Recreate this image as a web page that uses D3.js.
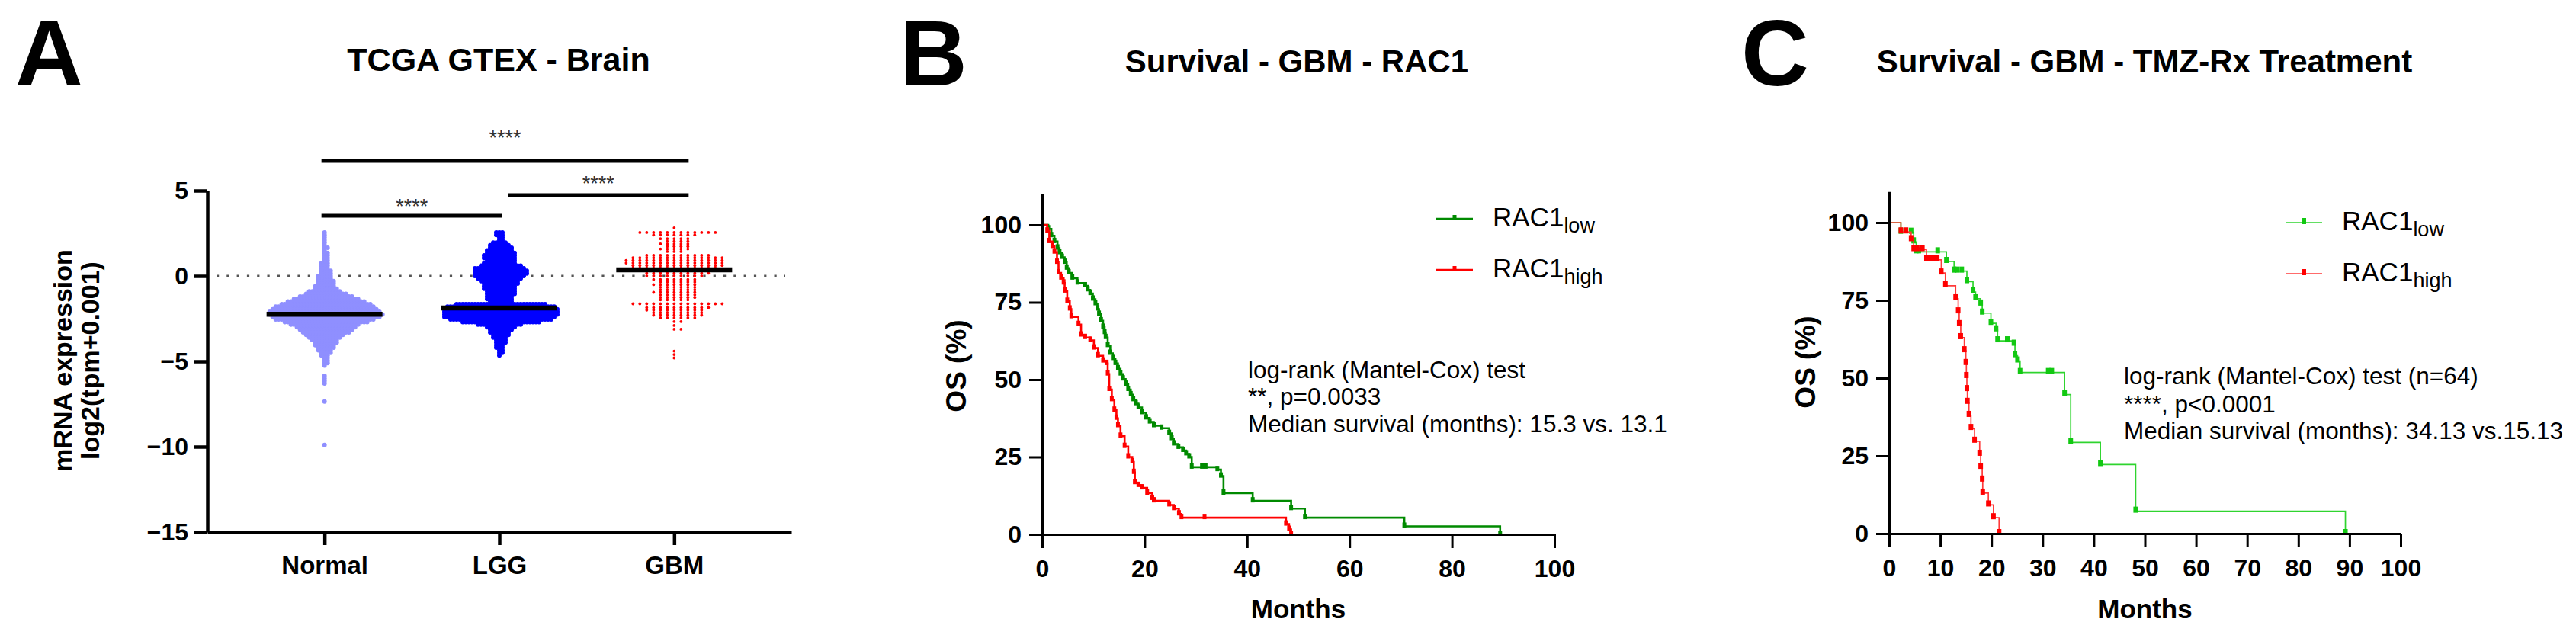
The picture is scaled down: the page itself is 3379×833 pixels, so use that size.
<!DOCTYPE html>
<html><head><meta charset="utf-8">
<script src="https://cdn.jsdelivr.net/npm/d3@7"></script>
<style>
body{margin:0;background:#fff;}
svg{display:block;}
text{font-family:"Liberation Sans",Arial,Helvetica,sans-serif;}
</style>
</head><body>
<svg id="c" width="3379" height="833"></svg>
<script>
// ================= DATA =================
const categories = ["Normal", "LGG", "GBM"];
// [log2 expression level, number of samples in that row]
const normalBins = [[2.55,1],[2.40,1],[2.25,1],[2.10,1],[1.95,1],[1.80,1],[1.65,2],[1.50,1],[1.35,2],[1.20,2],[1.05,2],[0.90,2],[0.75,3],[0.60,3],[0.45,3],[0.30,4],[0.15,4],[0.00,5],[-0.15,5],[-0.30,6],[-0.45,6],[-0.60,7],[-0.75,8],[-0.90,11],[-1.05,14],[-1.20,18],[-1.35,22],[-1.50,26],[-1.65,30],[-1.80,33],[-1.95,35],[-2.10,37],[-2.25,38],[-2.40,36],[-2.55,33],[-2.70,28],[-2.85,23],[-3.00,20],[-3.15,18],[-3.30,16],[-3.45,13],[-3.60,11],[-3.75,9],[-3.90,8],[-4.05,7],[-4.20,6],[-4.35,5],[-4.50,4],[-4.65,3],[-4.80,2],[-4.95,2],[-5.10,2],[-5.25,1],[-5.85,1],[-6.00,1],[-6.15,1],[-6.30,1],[-7.35,1],[-9.90,1]];
const lggBins = [[2.55,3],[2.40,3],[2.25,2],[2.10,2],[1.95,5],[1.80,7],[1.65,8],[1.50,9],[1.35,10],[1.20,11],[1.05,11],[0.90,10],[0.75,11],[0.60,14],[0.45,17],[0.30,18],[0.15,18],[0.00,17],[-0.15,15],[-0.30,13],[-0.45,12],[-0.60,11],[-0.75,11],[-0.90,10],[-1.05,10],[-1.20,9],[-1.35,9],[-1.50,8],[-1.65,30],[-1.80,36],[-1.95,38],[-2.10,38],[-2.25,38],[-2.40,37],[-2.55,34],[-2.70,26],[-2.85,15],[-3.00,10],[-3.15,8],[-3.30,7],[-3.45,6],[-3.60,5],[-3.75,4],[-3.90,4],[-4.05,3],[-4.20,3],[-4.35,2],[-4.50,2],[-4.65,1]];
const gbmBins = [[2.82,1],[2.55,12],[2.40,7],[2.18,5],[2.03,4],[1.88,5],[1.73,4],[1.58,5],[1.43,3],[1.21,10],[1.06,14],[0.91,15],[0.76,15],[0.61,14],[0.46,13],[0.31,12],[0.16,10],[0.01,9],[-0.21,7],[-0.36,6],[-0.51,7],[-0.66,6],[-0.81,6],[-0.96,7],[-1.11,6],[-1.26,6],[-1.40,5],[-1.63,14],[-1.85,10],[-2.00,9],[-2.15,8],[-2.30,8],[-2.45,6],[-2.67,2],[-2.90,1],[-3.12,2],[-4.40,1],[-4.60,1],[-4.80,1]];
const medians = [-2.24, -1.88, 0.36];
const yTicksA = [5, 0, -5, -10, -15];
const comparisons = [["Normal","GBM","****"],["LGG","GBM","****"],["Normal","LGG","****"]];

// Kaplan-Meier steps: [month, OS %]
const bLowSteps = [[0,100],[1.2,98.7],[1.8,96.5],[2.4,94.6],[3.0,92.5],[3.4,91],[3.9,89.5],[4.4,87.9],[4.8,86],[5.2,84.5],[5.9,82.8],[6.9,81.2],[8.4,80.3],[8.9,79],[9.4,77.8],[9.9,76],[10.4,74.5],[10.8,72.8],[11.1,71.1],[11.5,69],[11.9,66.9],[12.2,65.2],[12.4,63.6],[12.8,61],[13.3,58.5],[13.8,56.8],[14.3,55.2],[14.8,53.5],[15.3,51.8],[15.8,50.2],[16.3,48.5],[16.8,46.8],[17.3,45.1],[17.8,43.5],[18.3,42.2],[18.8,41],[19.5,39.3],[20.3,37.6],[21.0,36.3],[21.8,35.1],[23.3,34.3],[24.8,32.6],[25.3,30.9],[25.7,29.2],[26.6,28.1],[27.5,27.1],[28.1,26],[28.7,25],[29.2,21.7],[34.2,20.9],[34.9,18.8],[35.4,13.3],[41.1,10.8],[48.6,8.3],[51.3,5.4],[70.7,2.6],[89.4,0]];
const bHighSteps = [[0,100],[1.0,98],[1.4,94.6],[2.0,93],[2.4,91.2],[2.9,87.9],[3.2,84.5],[3.7,82.8],[4.2,81.2],[4.4,78.6],[4.9,75.3],[5.4,72.8],[5.7,70.3],[7.1,67.8],[7.6,64.4],[8.4,63.6],[9.4,62.7],[10.1,60.2],[10.9,57.7],[11.9,56],[12.6,55.2],[12.8,51.8],[13.1,46.8],[13.6,43.5],[14.1,40.1],[14.5,37.5],[14.8,35.1],[15.3,31.7],[16.1,28.4],[16.8,25],[17.6,23.4],[17.9,20],[18.1,16.7],[18.8,15.8],[19.5,15],[20.5,13.3],[21.5,11.6],[21.8,10.8],[24.8,9.5],[25.7,8.3],[26.7,6.6],[27.2,5.4],[47.6,3.3],[48.2,1.6],[48.6,0]];
const bLowCensor = [31.2, 31.9];
const bHighCensor = [31.7];

const cLowSteps = [[0,100],[2.3,96.9],[4.8,93.8],[5.3,90.6],[11.2,87.5],[12.7,84.4],[15.2,81],[16.4,77.7],[16.9,75.5],[17.9,73.8],[18.2,70.9],[19.9,67.6],[20.9,65.5],[21.2,62],[24.4,60.9],[24.6,57.2],[25.1,55.5],[25.6,51.8],[34.3,44.7],[35.5,29.3],[41.3,22.2],[48.2,7.2],[89.2,0]];
const cHighSteps = [[0,100],[2.3,97],[4.3,94.5],[4.8,91.3],[7.3,88],[10.2,83.8],[11.0,79.7],[13.0,75.5],[13.5,71.3],[13.7,67.2],[14.0,63],[14.7,58.8],[15.0,54.7],[15.1,50.5],[15.2,46.3],[15.3,42.2],[15.6,38],[16.0,33.8],[16.7,29.7],[17.7,25.5],[17.9,21.3],[18.2,17.2],[18.3,13],[19.4,9.2],[20.4,5.1],[21.5,0]];
const cLowCensor = [4.3, 5.8, 9.5, 13.3, 14.2, 23.1, 31.1, 31.8];
const cHighCensor = [3.3, 5.5, 6.5, 8.0, 8.7, 9.4];

const osTicks = [0, 25, 50, 75, 100];
const bMonthTicks = [0, 20, 40, 60, 80, 100];
const cMonthTicks = [0, 10, 20, 30, 40, 50, 60, 70, 80, 90, 100];

const bNotes = ["log-rank (Mantel-Cox) test", "**, p=0.0033", "Median survival (months): 15.3 vs. 13.1"];
const cNotes = ["log-rank (Mantel-Cox) test (n=64)", "****, p<0.0001", "Median survival (months): 34.13 vs.15.13"];
const legendNames = [["RAC1","low"],["RAC1","high"]];

// ================= DRAW =================
const svg = d3.select("#c");

function txt(g, x, y, s, size, weight, anchor) {
  return g.append("text").attr("x", x).attr("y", y).attr("font-size", size)
    .attr("font-weight", weight || "normal").attr("text-anchor", anchor || "start")
    .attr("fill", "#000").text(s);
}
function styleAxis(a, sw, fs) {
  a.select(".domain").attr("stroke", "#000").attr("stroke-width", sw);
  a.selectAll(".tick line").attr("stroke", "#000").attr("stroke-width", sw);
  a.selectAll(".tick text").attr("font-size", fs).attr("font-weight", "bold").attr("fill", "#000")
    .attr("font-family", '"Liberation Sans",Arial,sans-serif');
}

// ---------- Panel A ----------
const gA = svg.append("g");
txt(gA, 20, 112, "A", 123, "bold");
txt(gA, 654, 93, "TCGA GTEX - Brain", 43, "bold", "middle");

const yA = d3.scaleLinear().domain([-15, 5]).range([698, 250]);
const xA = d3.scalePoint().domain(categories).range([272, 1038]).padding(0.67);

gA.append("line").attr("x1", 284).attr("x2", 1030).attr("y1", yA(0)).attr("y2", yA(0))
  .attr("stroke", "#555").attr("stroke-width", 3.2).attr("stroke-dasharray", "3.2 10.1");

const groups = [
  {name: "Normal", bins: normalBins, color: "#8f8fff", r: 3, sp: 4},
  {name: "LGG", bins: lggBins, color: "#0000ff", r: 3, sp: 4},
  {name: "GBM", bins: gbmBins, color: "#ff0000", r: 1.9, sp: 9}
];
groups.forEach(g => {
  const pts = [];
  g.bins.forEach(([v, n]) => {
    for (let i = 0; i < n; i++) {
      const k = i === 0 ? 0 : (i % 2 ? (i + 1) / 2 : -i / 2);
      pts.push({x: xA(g.name) + k * g.sp, y: yA(v)});
    }
  });
  gA.append("g").selectAll("circle").data(pts).join("circle")
    .attr("cx", d => d.x).attr("cy", d => d.y).attr("r", g.r).attr("fill", g.color);
});
gA.append("g").selectAll("line").data(categories).join("line")
  .attr("x1", d => xA(d) - 76).attr("x2", d => xA(d) + 76)
  .attr("y1", (d, i) => yA(medians[i])).attr("y2", (d, i) => yA(medians[i]))
  .attr("stroke", "#000").attr("stroke-width", 6.5);

const brY = [211, 256, 283], brOff = [[-4, 19], [11, 19], [-4, 4]], starY = [190, 250, 280];
comparisons.forEach((c, i) => {
  const x1 = xA(c[0]) + brOff[i][0], x2 = xA(c[1]) + brOff[i][1];
  gA.append("line").attr("x1", x1).attr("x2", x2).attr("y1", brY[i]).attr("y2", brY[i])
    .attr("stroke", "#000").attr("stroke-width", 5);
  txt(gA, (x1 + x2) / 2, starY[i], c[2], 27, "normal", "middle").attr("fill", "#333");
});

const axYA = gA.append("g").attr("transform", "translate(272,0)")
  .call(d3.axisLeft(yA).tickValues(yTicksA).tickSize(17).tickSizeOuter(0).tickPadding(8));
styleAxis(axYA, 4.5, 32);
const axXA = gA.append("g").attr("transform", "translate(0,698)")
  .call(d3.axisBottom(xA).tickSize(17).tickSizeOuter(0).tickPadding(15));
styleAxis(axXA, 4.5, 33);

const yl = gA.append("g").attr("transform", "translate(94,473) rotate(-90)");
txt(yl, 0, 0, "mRNA expression", 34, "bold", "middle");
const yl2 = gA.append("g").attr("transform", "translate(130,473) rotate(-90)");
txt(yl2, 0, 0, "log2(tpm+0.001)", 34, "bold", "middle");

// ---------- KM panels ----------
function kmPanel(o) {
  const g = svg.append("g");
  txt(g, o.letterX, 112, o.letter, 123, "bold");
  txt(g, o.titleX, 95, o.title, 42, "bold", "middle");
  const x = d3.scaleLinear().domain([0, 100]).range([o.x0, o.x1]);
  const y = d3.scaleLinear().domain([0, 110]).range([o.y0, o.yTop]);

  const lineGen = d3.line().x(d => x(d[0])).y(d => y(d[1])).curve(d3.curveStepAfter);
  function survAt(steps, t) { let s = 100; steps.forEach(d => { if (d[0] <= t) s = d[1]; }); return s; }
  o.series.forEach(s => {
    g.append("path").attr("d", lineGen(s.steps)).attr("fill", "none")
      .attr("stroke", s.lineColor).attr("stroke-width", o.lw);
    const marks = s.steps.slice(1).map(d => [d[0], d[1]])
      .concat(s.censor.map(t => [t, survAt(s.steps, t)]));
    g.append("g").selectAll("rect").data(marks).join("rect")
      .attr("x", d => x(d[0]) - o.mw / 2).attr("y", d => y(d[1]) - o.mh + 2)
      .attr("width", o.mw).attr("height", o.mh).attr("fill", s.color);
  });

  const ax = g.append("g").attr("transform", `translate(0,${o.y0})`)
    .call(d3.axisBottom(x).tickValues(o.xTicks).tickSize(18).tickSizeOuter(0).tickPadding(15));
  styleAxis(ax, 3, 32);
  const ay = g.append("g").attr("transform", `translate(${o.x0},0)`)
    .call(d3.axisLeft(y).tickValues(osTicks).tickSize(17).tickSizeOuter(0).tickPadding(10));
  styleAxis(ay, 3, 32);

  txt(g, (o.x0 + o.x1) / 2, 811, "Months", 35, "bold", "middle");
  const os = g.append("g").attr("transform", `translate(${o.osX},${o.osY}) rotate(-90)`);
  txt(os, 0, 0, "OS (%)", 37, "bold", "middle");

  // legend
  o.series.forEach((s, i) => {
    const ly = o.legY[i];
    g.append("line").attr("x1", o.legX).attr("x2", o.legX + 48).attr("y1", ly).attr("y2", ly)
      .attr("stroke", s.lineColor).attr("stroke-width", o.lw);
    g.append("rect").attr("x", o.legX + 24 - o.mw / 2).attr("y", ly - o.mh + 2)
      .attr("width", o.mw).attr("height", o.mh).attr("fill", s.color);
    const t = txt(g, o.legX + 74, ly + 10, "", 35, "normal");
    t.append("tspan").text(legendNames[i][0]);
    t.append("tspan").attr("dy", 8).attr("font-size", 27).text(legendNames[i][1]);
  });
  o.notes.forEach((n, i) => txt(g, o.noteX, o.noteY[i], n, 31.5, "normal"));
}

kmPanel({
  letter: "B", letterX: 1180, title: "Survival - GBM - RAC1", titleX: 1701,
  x0: 1367, x1: 2039, y0: 701, yTop: 254.4, xTicks: bMonthTicks,
  lw: 2.6, mw: 5, mh: 7, osX: 1267, osY: 480,
  legX: 1884, legY: [287, 354],
  noteX: 1637, noteY: [496, 531, 567], notes: bNotes,
  series: [
    {steps: bLowSteps, censor: bLowCensor, color: "#008a00", lineColor: "#008a00"},
    {steps: bHighSteps, censor: bHighCensor, color: "#ff0000", lineColor: "#ff0000"}
  ]
});
kmPanel({
  letter: "C", letterX: 2284, title: "Survival - GBM - TMZ-Rx Treatment", titleX: 2813,
  x0: 2478, x1: 3149, y0: 700, yTop: 251.2, xTicks: cMonthTicks,
  lw: 1.7, mw: 6, mh: 8, osX: 2381, osY: 475,
  legX: 2998, legY: [292, 359],
  noteX: 2786, noteY: [504, 541, 576], notes: cNotes,
  series: [
    {steps: cLowSteps, censor: cLowCensor, color: "#12c812", lineColor: "#2fd42f"},
    {steps: cHighSteps, censor: cHighCensor, color: "#ff0000", lineColor: "#ff3a3a"}
  ]
});
</script>
</body></html>
